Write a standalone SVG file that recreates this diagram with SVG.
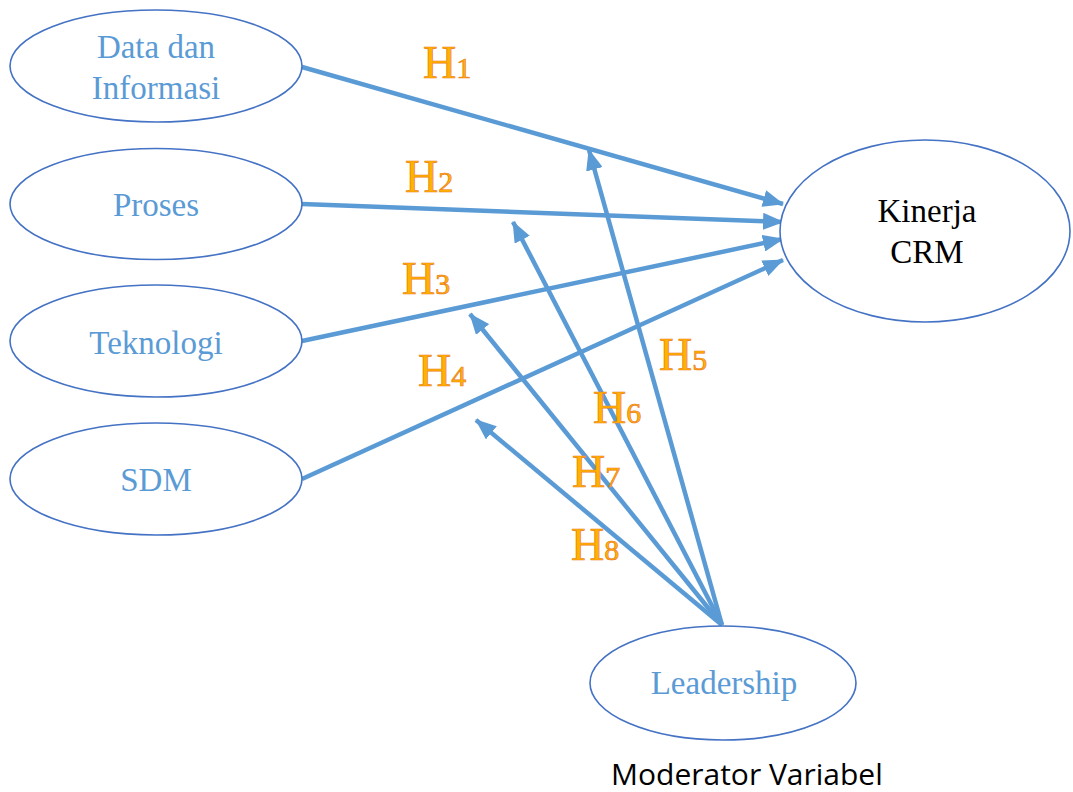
<svg xmlns="http://www.w3.org/2000/svg" width="1073" height="792" viewBox="0 0 1073 792">
<style>
.node ellipse{fill:#fff;stroke:#4472C4;stroke-width:1.6}
.lbl{font-size:33px;fill:#5B9BD5;text-anchor:middle}
.blk{font-size:33px;fill:#000;text-anchor:middle}
.conn line{stroke:#5B9BD5;stroke-width:4.5;fill:none}
.h{font-size:46px;fill:#FFB300;stroke:#EC7C22;stroke-width:0.7}
.s{font-size:30px}
.mod{font-size:30px;fill:#000}
</style>
<defs>
<marker id="arr" markerUnits="userSpaceOnUse" markerWidth="21" markerHeight="17" refX="20" refY="8.5" orient="auto">
<path d="M0,0 L21,8.5 L0,17 Z" fill="#5B9BD5"/>
</marker>
</defs>
<rect width="1073" height="792" fill="#fff"/>
<g class="conn">
<line x1="302" y1="67" x2="783" y2="204" marker-end="url(#arr)"/>
<line x1="302" y1="204" x2="783" y2="222" marker-end="url(#arr)"/>
<line x1="302" y1="341" x2="783" y2="239" marker-end="url(#arr)"/>
<line x1="302" y1="479" x2="783" y2="260" marker-end="url(#arr)"/>
<line x1="722" y1="625" x2="589" y2="150" marker-end="url(#arr)"/>
<line x1="722" y1="625" x2="513" y2="222" marker-end="url(#arr)"/>
<line x1="722" y1="625" x2="470" y2="314" marker-end="url(#arr)"/>
<line x1="722" y1="625" x2="476" y2="420" marker-end="url(#arr)"/>
</g>
<g font-family="'Liberation Serif', 'Times New Roman', serif">
<g id="data"><g class="node"><ellipse cx="156" cy="66" rx="146" ry="56"/></g>
<text class="lbl" x="156" y="58">Data dan</text><text class="lbl" x="156" y="99">Informasi</text></g>
<g id="proses"><g class="node"><ellipse cx="156" cy="204" rx="146" ry="55.5"/></g>
<text class="lbl" x="156" y="216">Proses</text></g>
<g id="teknologi"><g class="node"><ellipse cx="156" cy="341" rx="146" ry="56"/></g>
<text class="lbl" x="156" y="354">Teknologi</text></g>
<g id="sdm"><g class="node"><ellipse cx="156" cy="479" rx="146" ry="56"/></g>
<text class="lbl" x="156" y="491">SDM</text></g>
<g id="kinerja"><g class="node"><ellipse cx="925" cy="231" rx="145" ry="91"/></g>
<text class="blk" x="927" y="222">Kinerja</text><text class="blk" x="927" y="263">CRM</text></g>
<g id="leadership"><g class="node"><ellipse cx="723" cy="683" rx="133" ry="57"/></g>
<text class="lbl" x="724" y="694">Leadership</text></g>
<g id="labels">
<text class="h" x="423" y="78">H<tspan class="s">1</tspan></text>
<text class="h" x="405" y="192">H<tspan class="s">2</tspan></text>
<text class="h" x="402" y="294">H<tspan class="s">3</tspan></text>
<text class="h" x="418" y="386">H<tspan class="s">4</tspan></text>
<text class="h" x="659" y="370">H<tspan class="s">5</tspan></text>
<text class="h" x="593" y="423">H<tspan class="s">6</tspan></text>
<text class="h" x="572" y="487">H<tspan class="s">7</tspan></text>
<text class="h" x="571" y="560">H<tspan class="s">8</tspan></text>
</g>
</g>
<text class="mod" font-family="'Open Sans', 'Liberation Sans', sans-serif" x="611" y="785">Moderator Variabel</text>
</svg>
